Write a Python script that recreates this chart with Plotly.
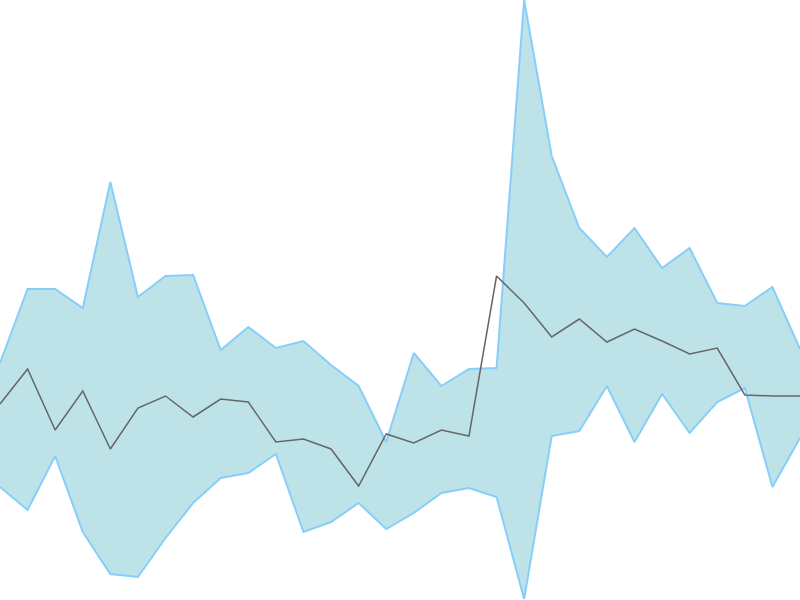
import plotly.graph_objects as go

x_index = list(range(30))
upper = [237, 311, 311, 292, 418, 303, 324, 325, 250, 273, 252, 259, 235, 214, 158,
         247, 214, 231, 232, 600, 444, 372, 343, 372, 332, 352, 297, 294, 313, 251]
lower = [113, 90, 144, 68, 26, 23, 62, 97, 122, 127, 146, 68, 78, 97, 71,
         87, 107, 112, 103, 1, 164, 169, 214, 158, 206, 167, 198, 212, 113, 162]
middle = [196, 231, 170, 209, 151, 192, 204, 183, 201, 198, 158, 161, 151, 114, 166,
          157, 170, 164, 324, 297, 263, 281, 258, 271, 259, 246, 252, 205, 204, 204]

fig = go.Figure()
fig.add_trace(go.Scatter(x=x_index, y=lower, mode="lines",
                         line=dict(color="#87CEFA", width=2), showlegend=False,
                         hoverinfo="skip"))
fig.add_trace(go.Scatter(x=x_index, y=upper, mode="lines", fill="tonexty",
                         fillcolor="rgb(189,227,232)",
                         line=dict(color="#87CEFA", width=2), showlegend=False,
                         hoverinfo="skip"))
fig.add_trace(go.Scatter(x=x_index, y=middle, mode="lines",
                         line=dict(color="#666666", width=1.5), showlegend=False))

fig.update_layout(
    width=800, height=600,
    margin=dict(l=0, r=0, t=0, b=0),
    paper_bgcolor="white", plot_bgcolor="white",
    xaxis=dict(visible=False, range=[0, 29]),
    yaxis=dict(visible=False, range=[0, 600]),
)
fig.write_html("out.html", config={"displayModeBar": False},
               post_script="document.body.style.margin='0';document.body.style.overflow='hidden';")
